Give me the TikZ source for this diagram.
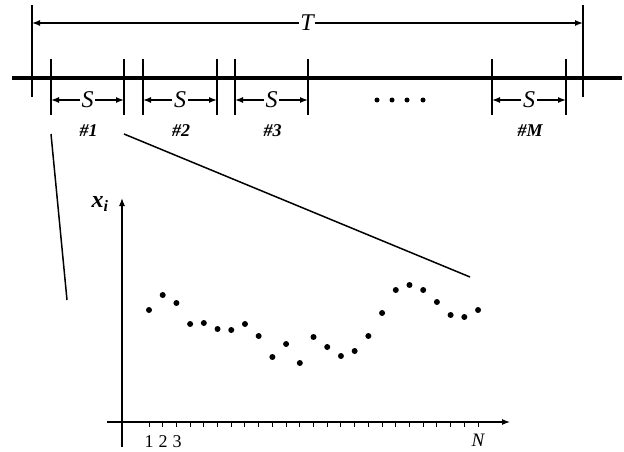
\documentclass[tikz,border=0pt]{standalone}
\usepackage{fontspec}
\setmainfont{Liberation Serif}
\usetikzlibrary{arrows.meta}
\begin{document}
\begin{tikzpicture}[x=1pt,y=-1pt,
  thinline/.style={line width=1.4pt},
  tip/.style={-{Latex[length=8pt,width=6pt]}},
  dimlbl/.style={fill=white,inner sep=1.5pt,font=\fontsize{24}{24}\selectfont\itshape},
  seglbl/.style={inner sep=0pt,font=\fontsize{18}{18}\selectfont\bfseries\itshape},
  numlbl/.style={inner sep=0pt,font=\fontsize{18}{18}\selectfont},
  sample/.style={circle,fill=black,inner sep=0pt,minimum size=6pt}]
\useasboundingbox (0,0) rectangle (624,452);
% main time line
\coordinate (ml) at (12,78);
\coordinate (mr) at (622,78);
\draw[line width=3.8pt] (ml) -- (mr);
% T bounds
\coordinate (TLt) at (32,5); \coordinate (TLb) at (32,97);
\coordinate (TRt) at (583,5); \coordinate (TRb) at (583,97);
\draw[thinline] (TLt) -- (TLb);
\draw[thinline] (TRt) -- (TRb);
\coordinate (TLa) at (32,23); \coordinate (TRa) at (583,23);
\node[dimlbl] (T) at (307,23) {T};
\draw[thinline,tip] (T) -- (TLa);
\draw[thinline,tip] (T) -- (TRa);
% segments
\foreach \a/\b/\n/\lab in {51/124/1/1, 143/217/2/2, 235/308/3/3, 492/566/M/\textit{M}}{
  \coordinate (s\n at) at (\a,59); \coordinate (s\n ab) at (\a,115);
  \coordinate (s\n bt) at (\b,59); \coordinate (s\n bb) at (\b,115);
  \draw[thinline] (s\n at) -- (s\n ab);
  \draw[thinline] (s\n bt) -- (s\n bb);
  \coordinate (s\n a) at (\a,100); \coordinate (s\n b) at (\b,100);
  \node[dimlbl] (S\n) at ({(\a+\b)/2},100) {S};
  \draw[thinline,tip] (S\n) -- (s\n a);
  \draw[thinline,tip] (S\n) -- (s\n b);
  \node[seglbl] (L\n) at ({(\a+\b)/2+1},131) {\#\lab};
}
% dots
\foreach \x [count=\k] in {377,392,407,423}{
  \node[circle,fill=black,inner sep=0pt,minimum size=5pt] (e\k) at (\x,100) {};
}
% zoom lines
\coordinate (z1a) at (51,134); \coordinate (z1b) at (67,300);
\coordinate (z2a) at (124,134); \coordinate (z2b) at (470,277);
\draw[line width=1.5pt] (z1a) -- (z1b);
\draw[line width=1.5pt] (z2a) -- (z2b);
% axes
\coordinate (xs) at (107,422); \coordinate (xe) at (510,422);
\coordinate (ys) at (122,447); \coordinate (ye) at (122,198);
\draw[line width=1.1pt,tip] (xs) -- (xe);
\draw[line width=1.1pt,tip] (ys) -- (ye);
\foreach \i in {0,...,24}{
  \draw[line width=1pt] ({149+\i*13.71},422) -- ({149+\i*13.71},427);
}
\node[inner sep=0pt,font=\fontsize{24}{24}\selectfont\bfseries\itshape] (xi) at (100,204) {x\textsubscript{\fontsize{16}{16}\selectfont i}};
\node[numlbl] (n1) at (149,442) {1};
\node[numlbl] (n2) at (163,442) {2};
\node[numlbl] (n3) at (177,442) {3};
\node[numlbl,font=\fontsize{19}{19}\selectfont\itshape] (nN) at (478,440) {N};
% samples
\foreach \y [count=\k from 0] in {310,295,303,324,323,329,330,324,336,357,344,363,337,347,356,351,336,313,290,285,290,302,315,317,310}{
  \node[sample] (p\k) at ({149+\k*13.71},\y) {};
}
\end{tikzpicture}
\end{document}
